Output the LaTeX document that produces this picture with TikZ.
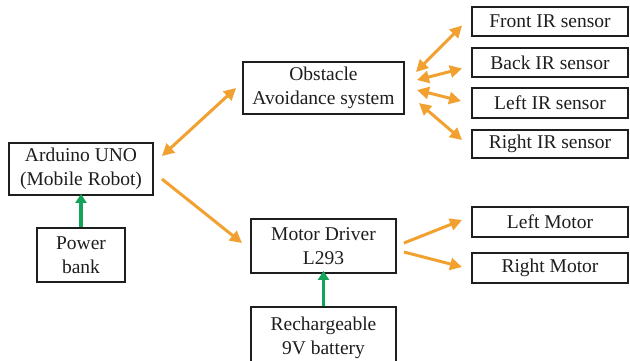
\documentclass[tikz,border=0pt]{standalone}
\usepackage{fontspec}
\setmainfont{Liberation Serif}
\usetikzlibrary{arrows.meta}
\definecolor{flow}{HTML}{F2A131}
\definecolor{power}{HTML}{14A35A}
\definecolor{ink}{HTML}{1E1E1E}
\tikzset{
  block/.style={draw=ink, line width=1.9pt, inner sep=0pt, align=center,
    text=ink, font=\fontsize{19.5}{24}\selectfont},
  oarrow/.style={draw=flow, line width=3pt,
    arrows={-Triangle[length=12pt,width=12pt]}},
  biarrow/.style={draw=flow, line width=3pt,
    arrows={Triangle[length=12pt,width=12pt]-Triangle[length=12pt,width=12pt]}},
  garrow/.style={draw=power, line width=3.6pt,
    arrows={-Triangle[length=9pt,width=11pt]}}
}
\begin{document}
\begin{tikzpicture}[x=1pt,y=-1pt]
\useasboundingbox (0,0) rectangle (630,360);
\clip (0,0) rectangle (630,360);
\fill[white] (0,0) rectangle (630,360);

% controller and its supply
\node[block, minimum width=144pt, minimum height=52pt] (ard) at (81,169) {Arduino UNO\\(Mobile Robot)};
\node[block, minimum width=88pt, minimum height=54pt] (pwr) at (81,255) {Power\\bank};

% obstacle avoidance branch
\node[block, minimum width=161pt, minimum height=52pt] (obs) at (323.5,88) {Obstacle\\Avoidance system};
\node[block, minimum width=156pt, minimum height=29pt] (front) at (550,21.5) {Front IR sensor};
\node[block, minimum width=156pt, minimum height=29pt] (back) at (550,62.5) {Back IR sensor};
\node[block, minimum width=156pt, minimum height=30pt] (left) at (550,103) {Left IR sensor};
\node[block, minimum width=156pt, minimum height=28pt] (right) at (550,144) {Right IR sensor};

% drive branch
\node[block, minimum width=145pt, minimum height=54pt] (drv) at (323.5,246) {Motor Driver\\L293};
\node[block, minimum width=156pt, minimum height=30pt] (lm) at (550,222) {Left Motor};
\node[block, minimum width=156pt, minimum height=30pt] (rm) at (550,268) {Right Motor};
\node[block, minimum width=145pt, minimum height=62pt] (bat) at (323.5,338) {Rechargeable\\9V battery};

% power feeds
\draw[garrow] (pwr.north) -- ([yshift=2]ard.south);
\draw[garrow] (bat.north) -- ([yshift=3]drv.south);

% controller links
\draw[biarrow] ([shift={(8,-13)}]ard.east) -- ([xshift=-6]obs.west);
\draw[oarrow] ([shift={(8,10)}]ard.east) -- ([shift={(-8,-3)}]drv.west);

% sensor links
\draw[biarrow] ([shift={(11,-16)}]obs.east) -- ([shift={(-9,4)}]front.west);
\draw[biarrow] ([shift={(12,-8)}]obs.east) -- ([shift={(-9,6)}]back.west);
\draw[biarrow] ([shift={(12,2)}]obs.east) -- ([shift={(-10,-2)}]left.west);
\draw[biarrow] ([shift={(14,15)}]obs.east) -- ([shift={(-9,-4)}]right.west);

% motor outputs
\draw[oarrow] ([shift={(7,-3)}]drv.east) -- ([shift={(-9,-2)}]lm.west);
\draw[oarrow] ([shift={(7,6)}]drv.east) -- ([shift={(-9,-1)}]rm.west);
\end{tikzpicture}
\end{document}
